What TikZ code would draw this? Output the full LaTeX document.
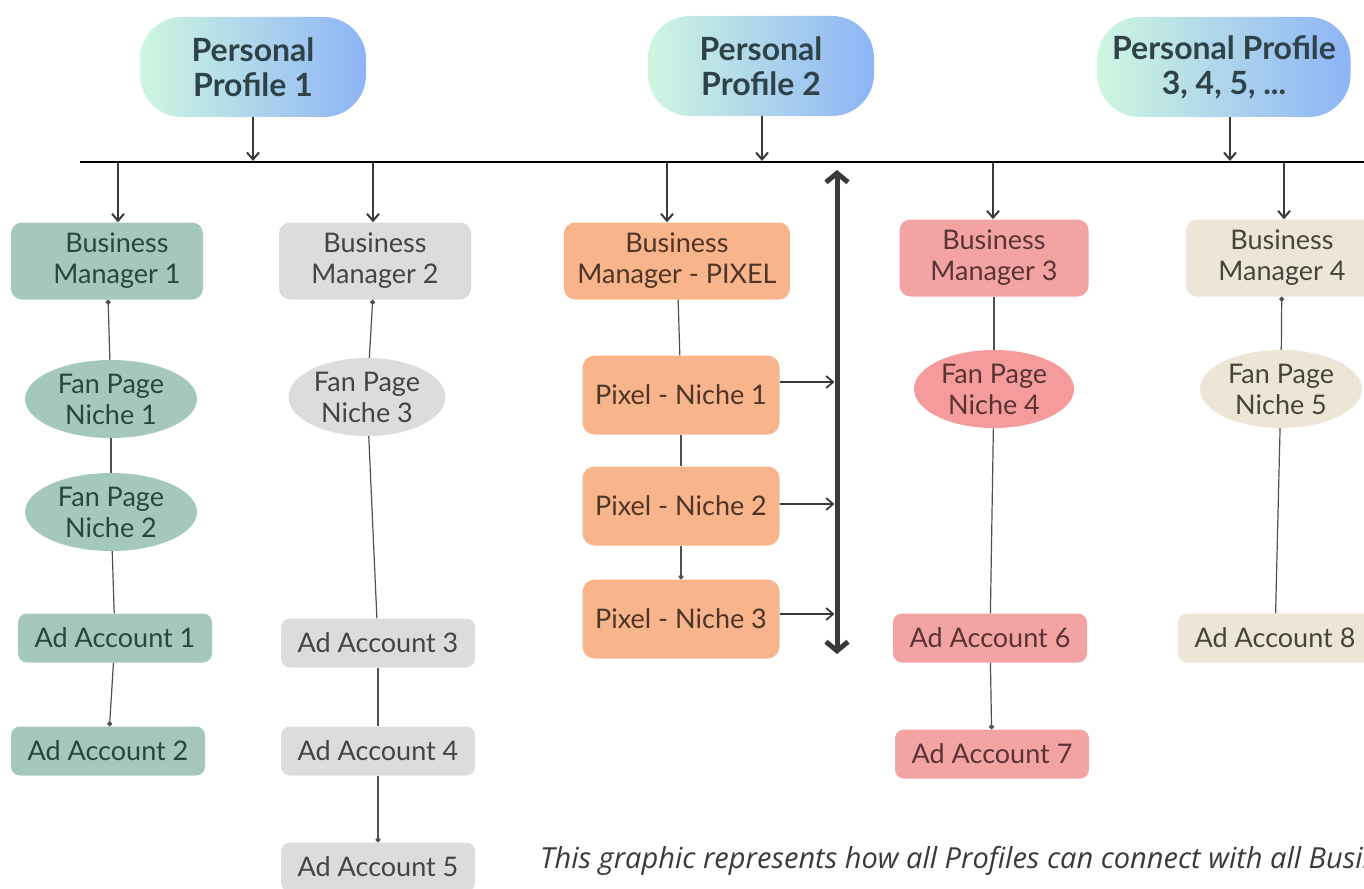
\documentclass[tikz,border=0pt]{standalone}
\usepackage{fontspec}
\setmainfont{Lato}
\newfontfamily\capfont{Open Sans}
\usetikzlibrary{arrows.meta,shapes.geometric}

\definecolor{mint}{HTML}{CFF6E0}
\definecolor{sky}{HTML}{8DB4F6}
\definecolor{slate}{HTML}{2F4248}
\definecolor{sage}{HTML}{A4C9BB}
\definecolor{sagetxt}{HTML}{2C453D}
\definecolor{fog}{HTML}{DCDCDC}
\definecolor{fogtxt}{HTML}{444444}
\definecolor{peach}{HTML}{F8B48A}
\definecolor{peachtxt}{HTML}{4E3527}
\definecolor{rose}{HTML}{F4A3A3}
\definecolor{rosetxt}{HTML}{5A3434}
\definecolor{sand}{HTML}{EDE6D7}
\definecolor{sandtxt}{HTML}{45443D}
\definecolor{ink}{HTML}{3A3A3A}
\definecolor{wire}{HTML}{505050}

\begin{document}
\begin{tikzpicture}
      [x=1pt,y=-1pt
      ,prof/.style={rounded corners=42pt,minimum width=226pt,minimum height=100pt,inner sep=0
                   ,left color=mint,right color=sky,text=slate,align=center
                   ,font=\fontsize{32}{35}\selectfont\bfseries}
      ,bm/.style={rounded corners=11pt,minimum width=192pt,minimum height=77pt,inner sep=0
                 ,align=center,font=\fontsize{27}{31}\selectfont}
      ,fan/.style={ellipse,minimum width=172pt,minimum height=78pt,inner sep=0
                  ,align=center,font=\fontsize{27}{31}\selectfont}
      ,ad/.style={rounded corners=9pt,minimum width=194pt,minimum height=49pt,inner sep=0
                 ,font=\fontsize{27}{31}\selectfont}
      ,nic/.style={rounded corners=12pt,minimum width=197pt,minimum height=79pt,inner sep=0
                  ,fill=peach,text=peachtxt,font=\fontsize{27}{31}\selectfont}
      ,c1/.style={fill=sage,text=sagetxt}
      ,c2/.style={fill=fog,text=fogtxt}
      ,c3/.style={fill=peach,text=peachtxt}
      ,c4/.style={fill=rose,text=rosetxt}
      ,c5/.style={fill=sand,text=sandtxt}
      ,lin/.style={draw=wire,line width=1.2pt}
      ,dot/.style={-{Circle[length=5pt]}}
      ,arr/.style={draw=ink,line width=2pt,-{Straight Barb[length=7pt,width=12pt]}}]
        \useasboundingbox (0,0) rectangle (1364,888);
        \clip (0,0) rectangle (1364,888);
        % profiles and the bus
        \node[prof] (P1) at (253,67) {Personal\\Profile 1};
        \node[prof] (P2) at (761,66) {Personal\\Profile 2};
        \node[prof,minimum width=253pt] (P3) at (1224,67) {Personal Profile\\3, 4, 5, ...};
        \coordinate (busL) at (80,162);
        \coordinate (busR) at (1370,162);
        \draw[line width=2.6pt] (busL) -- (busR);
        \foreach \p/\dx in {P1/0,P2/1,P3/6}{
          \draw[arr,shorten >=1pt] ([xshift=\dx]\p.south) -- ([xshift=\dx]\p.south |- busL);
        }
        % business managers
        \node[bm,c1] (BM1) at (107,261) {\hspace*{20pt}Business\\\hspace*{20pt}Manager 1};
        \node[bm,c2] (BM2) at (375,261) {Business\\Manager 2};
        \node[bm,c3,minimum width=226pt] (BMP) at (677,261) {Business\\Manager - PIXEL};
        \node[bm,c4,minimum width=189pt] (BM3) at (994,258) {Business\\Manager 3};
        \node[bm,c5] (BM4) at (1282,258) {Business\\Manager 4};
        \foreach \b/\dx in {BM1/11,BM2/-2,BMP/-10,BM3/-1,BM4/2}{
          \draw[arr,shorten <=1pt] ([xshift=\dx]\b.north |- busL) -- ([xshift=\dx]\b.north);
        }
        % fan pages
        \node[fan,c1] (FP1) at (111,399) {Fan Page\\Niche 1};
        \node[fan,c1] (FP2) at (111,512) {Fan Page\\Niche 2};
        \node[fan,c2,minimum width=157pt] (FP3) at (367,397) {Fan Page\\Niche 3};
        \node[fan,c4,minimum width=160pt,fill=rose!95!red] (FP4) at (994,389) {Fan Page\\Niche 4};
        \node[fan,c5,minimum width=162pt] (FP5) at (1281,389) {Fan Page\\Niche 5};
        % ad accounts
        \node[ad,c1] (AA1) at (115,638) {Ad Account 1};
        \node[ad,c1] (AA2) at (108,751) {Ad Account 2};
        \node[ad,c2] (AA3) at (378,643) {Ad Account 3};
        \node[ad,c2] (AA4) at (378,751) {Ad Account 4};
        \node[ad,c2] (AA5) at (378,867) {Ad Account 5};
        \node[ad,c4] (AA6) at (990,638) {Ad Account 6};
        \node[ad,c4] (AA7) at (992,754) {Ad Account 7};
        \node[ad,c5] (AA8) at (1275,638) {Ad Account 8};
        % pixels
        \node[nic] (PN1) at (681,395) {Pixel - Niche 1};
        \node[nic] (PN2) at (681,506) {Pixel - Niche 2};
        \node[nic] (PN3) at (681,619) {Pixel - Niche 3};
        \coordinate (vtop) at (837,170);
        \coordinate (vbot) at (837,654);
        \draw[draw=ink,line width=5pt
             ,{Straight Barb[length=9pt,width=22pt]}-{Straight Barb[length=9pt,width=22pt]}]
             (vtop) -- (vbot);
        \foreach \n/\dy in {1/13,2/2,3/5}{
          \draw[arr,line width=1.8pt,shorten >=2.5pt] ([yshift=\dy]PN\n.east) -- ([yshift=\dy]PN\n.east -| vtop);
        }
        % links
        \draw[lin,dot] (FP1) -- (BM1);
        \draw[lin] (FP1) -- (FP2);
        \draw[lin] (FP2) -- (AA1);
        \draw[lin,dot] (AA1) -- (AA2);
        \draw[lin,dot] (FP3) -- (BM2);
        \draw[lin] (FP3) -- (AA3);
        \draw[lin] (AA3) -- (AA4);
        \draw[lin,dot] (AA4) -- (AA5);
        \draw[lin] (BMP) -- (PN1);
        \draw[lin] (PN1) -- (PN2);
        \draw[lin,dot] (PN2) -- (PN3);
        \draw[lin] (BM3) -- (FP4);
        \draw[lin] (FP4) -- (AA6);
        \draw[lin,dot] (AA6) -- (AA7);
        \draw[lin,dot] (FP5) -- (BM4);
        \draw[lin] (FP5) -- (AA8);
        % caption
        \node[anchor=base west,text=ink,inner sep=0,font=\capfont\itshape\fontsize{29}{34}\selectfont]
             (cap) at (540,868) {This graphic represents how all Profiles can connect with all Business};
      \end{tikzpicture}
\end{document}
